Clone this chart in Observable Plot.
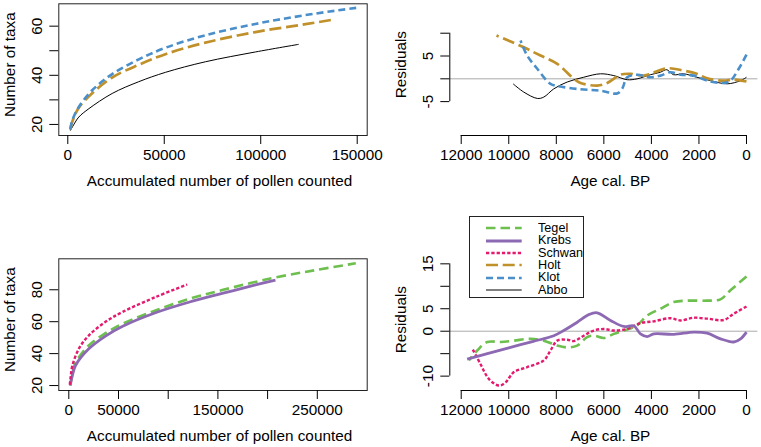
<!DOCTYPE html>
<html>
<head>
<meta charset="utf-8">
<script src="https://cdn.jsdelivr.net/npm/d3@7"></script>
<script src="https://cdn.jsdelivr.net/npm/@observablehq/plot@0.6"></script>
<style>
  body { margin: 0; background: #fff; }
  #wrap { position: relative; width: 761px; height: 447px; overflow: hidden; background: #fff;
          font-family: "Liberation Sans", Arial, Helvetica, sans-serif; }
  .panel { position: absolute; }
  .panel svg { overflow: visible; }
  #legend { position: absolute; box-sizing: border-box; border: 1px solid #222; background: #fff; }
  #legend .row { position: absolute; font-size: 11px; color: #000; white-space: nowrap;
                 transform: scale(1.15, 1.1); transform-origin: 0 50%; }
</style>
</head>
<body>
<div id="wrap"></div>
<script>
// ---------------- DATA ----------------
// Rarefaction curves (accumulated pollen count, number of taxa)
const klotRare  = [[1260,18],[2500,22],[5700,27.1],[12640,33.9],[23000,40.5],[36800,46.5],[50600,51.2],[71300,56.3],[97250,60.9],[123200,64.5],[149900,67.5]];
const holtRare  = [[1260,18],[2500,21.5],[5700,26.8],[12640,32.7],[23000,39.1],[36800,44.3],[50600,48.6],[71300,53.3],[97250,57.6],[123200,60.8],[137800,62.7]];
const abboRare  = [[1300,17.5],[3000,19.8],[5700,23.0],[10900,26.4],[23000,32.6],[36800,37.4],[50600,41.2],[71300,45.5],[97250,49.5],[119700,52.6]];
const tegelRare = [[1430,20],[3500,27],[6740,34.2],[20100,45.1],[36900,52.8],[53700,58.6],[87200,67.0],[120700,74.2],[154300,79.8],[204600,87.3],[248200,92.3],[288700,96.6]];
const krebsRare = [[1430,20],[3500,26],[6740,32.5],[20100,43.0],[36900,51.0],[53700,57.0],[87200,65.6],[120700,72.2],[154300,77.7],[187800,83.0],[207900,86.0]];
const schwanRare= [[1000,20.5],[2000,26],[3420,32.0],[10060,43.0],[20100,51.3],[36900,59.9],[53700,66.0],[87200,75.4],[119100,83.3]];

// Residuals (age cal. BP, residual)
const klotRes  = [[9505,8.4],[9225,5.1],[8800,2.2],[8245,-1.1],[7820,-1.7],[6980,-2.3],[6140,-2.6],[5440,-3.2],[5230,-2.2],[5020,0.35],[4600,0.9],[4040,0.35],[3620,0.7],[3200,1.45],[2775,0.9],[2215,0.7],[1655,-0.4],[955,-0.9],[675,-0.4],[325,2.2],[0,5.3]];
const holtRes  = [[10515,9.5],[9370,6.9],[8665,5.1],[7960,3.3],[7260,0],[6980,-0.9],[6280,-1.5],[5860,-0.9],[5300,0.9],[4880,1.1],[4320,0.7],[3350,2.3],[2650,1.8],[2090,1.1],[1650,0.1],[955,-0.4],[535,-0.15],[0,-0.6]];
const abboRes  = [[9815,-1.1],[9370,-2.9],[8800,-4.3],[8525,-4.0],[8105,-2.2],[7540,-0.7],[6845,0.35],[6140,1.1],[5580,0.7],[5020,-0.2],[4600,0],[4040,0.9],[3620,1.45],[3350,2.0],[3070,0.9],[2650,1.1],[2090,0.35],[1515,-0.4],[815,-1.1],[250,-0.4],[0,0.35]];
const tegelRes = [[11680,-6.5],[11330,-4.3],[10905,-2.4],[10345,-2.4],[9785,-2.1],[9085,-1.7],[8525,-2.1],[7960,-3.2],[7540,-3.6],[7120,-3.2],[6700,-1.3],[6420,-1.0],[6000,-1.5],[5580,-0.6],[5020,0.4],[4600,1.3],[4180,3.5],[3620,5.0],[3060,6.5],[2495,6.8],[1655,6.8],[1095,7.1],[675,9.1],[0,12.2]];
const krebsRes = [[11750,-6.2],[10900,-5.0],[10000,-3.7],[9000,-2.3],[8105,-1.0],[7685,0.15],[7120,2.0],[6630,3.7],[6280,4.1],[5720,2.4],[5160,1.05],[4740,1.2],[4460,-0.6],[4180,-1.2],[3900,-0.6],[3060,-0.7],[2215,-0.2],[1655,-0.45],[1095,-1.7],[535,-2.4],[250,-1.7],[0,-0.2]];
const schwanRes= [[11540,-3.8],[11190,-7.3],[10840,-10.6],[10420,-12.1],[10135,-11.4],[9785,-9.1],[9225,-8.0],[8525,-6.5],[8245,-4.3],[7960,-2.1],[7540,-1.9],[7260,-2.2],[6845,-1.0],[6420,0.15],[6000,0.5],[5580,0.15],[5020,0.5],[4460,1.8],[3900,2.2],[3200,2.9],[2775,2.4],[2215,3.0],[1655,2.8],[955,2.5],[535,3.9],[0,5.5]];

// Axis ticks and labels
const tlXTicks = [0,50000,100000,150000];
const tlXLabels = [0,50000,100000,150000];
const tlYTicks = [20,30,40,50,60];
const tlYLabels = [20,40,60];
const blXTicks = [0,50000,100000,150000,200000,250000];
const blXLabels = [0,50000,150000,250000];
const blYTicks = [20,40,60,80];
const blYLabels = [20,40,60,80];
const ageTicks = [12000,10000,8000,6000,4000,2000,0];
const trYTicks = [-5,0,5,10];
const trYLabels = [-5,5];
const brYTicks = [-10,-5,0,5,10,15];
const brYLabels = [-10,0,5,15];

const xTitleRare = "Accumulated number of pollen counted";
const yTitleRare = "Number of taxa";
const xTitleRes = "Age cal. BP";
const yTitleRes = "Residuals";
const legendNames = ["Tegel","Krebs","Schwan","Holt","Klot","Abbo"];

// ---------------- STYLES ----------------
const S = {
  Tegel:  {stroke: "#6dbf4e", strokeWidth: 2.6, strokeDasharray: "9.5,5"},
  Krebs:  {stroke: "#8c69b2", strokeWidth: 2.8, strokeDasharray: null},
  Schwan: {stroke: "#e31a6e", strokeWidth: 2.4, strokeDasharray: "3.3,2"},
  Holt:   {stroke: "#c0902a", strokeWidth: 2.7, strokeDasharray: "12,4.7"},
  Klot:   {stroke: "#4a8fca", strokeWidth: 2.6, strokeDasharray: "7,4"},
  Abbo:   {stroke: "#000000", strokeWidth: 1, strokeDasharray: null}
};
const FS = 15.3;
const FONT = '"Liberation Sans", Arial, Helvetica, sans-serif';

const wrap = document.getElementById("wrap");

function series(data, name) {
  const st = S[name];
  const sorted = data.slice().sort((a, b) => a[0] - b[0]);
  const o = {x: d => d[0], y: d => d[1], stroke: st.stroke, strokeWidth: st.strokeWidth,
             curve: "catmull-rom", strokeLinecap: "butt", strokeLinejoin: "round"};
  if (st.strokeDasharray) o.strokeDasharray = st.strokeDasharray;
  return Plot.line(sorted, o);
}

function place(svg, left, top, width) {
  const div = document.createElement("div");
  div.className = "panel";
  div.style.left = left + "px";
  div.style.top = top + "px";
  div.style.width = width + "px";
  div.appendChild(svg);
  wrap.appendChild(div);
}

function yTickLabels(labels) {
  return Plot.text(labels, {y: d => d, text: d => String(d), frameAnchor: "left", rotate: -90,
    dx: -21.5, textAnchor: "middle", lineAnchor: "middle", fontSize: FS, fill: "black"});
}
function titles(xt, yt) {
  return [
    Plot.text([xt], {text: d => d, frameAnchor: "bottom", dy: 46, dx: 6.5, textAnchor: "middle", lineAnchor: "middle", fontSize: FS, fill: "black"}),
    Plot.text([yt], {text: d => d, frameAnchor: "left", rotate: -90, dx: -48.8, dy: -5, textAnchor: "middle", lineAnchor: "middle", fontSize: FS, fill: "black"})
  ];
}
function xAxes(ticks, labels) {
  return [
    Plot.axisX({ticks, tickSize: 9, fill: "none", stroke: "black", label: null}),
    Plot.axisX({ticks: labels, tickSize: 0, tickPadding: 14, tickFormat: d => String(d), label: null, fontSize: FS, fill: "black"})
  ];
}
const baseStyle = {fontFamily: FONT, fontSize: FS + "px", background: "transparent", overflow: "visible", color: "black"};

// ---------------- TOP LEFT ----------------
place(Plot.plot({
  width: 380, height: 224,
  marginLeft: 58.3, marginRight: 13.3, marginTop: 3.3, marginBottom: 89,
  x: {domain: [-4660, 155180]},
  y: {domain: [15.5, 69.1]},
  style: baseStyle,
  marks: [
    Plot.frame({stroke: "#222"}),
    series(abboRare, "Abbo"),
    series(holtRare, "Holt"),
    series(klotRare, "Klot"),
    ...xAxes(tlXTicks, tlXLabels),
    Plot.axisY({ticks: tlYTicks, tickSize: 9, fill: "none", stroke: "black", label: null}),
    yTickLabels(tlYLabels),
    ...titles(xTitleRare, yTitleRare)
  ]
}), 0, 0, 380);

// ---------------- TOP RIGHT ----------------
const resXDomain = [12480, -480];
const trYDomain = [-12.43, 16.45];
place(Plot.plot({
  width: 381, height: 224,
  marginLeft: 69.3, marginRight: 3.6, marginTop: 3.3, marginBottom: 89,
  x: {domain: resXDomain},
  y: {domain: trYDomain},
  style: baseStyle,
  marks: [
    Plot.ruleY([0], {stroke: "#aaaaaa", strokeWidth: 1}),
    series(abboRes, "Abbo"),
    series(holtRes, "Holt"),
    series(klotRes, "Klot"),
    Plot.ruleY([trYDomain[0]], {x1: d3.max(ageTicks), x2: d3.min(ageTicks), stroke: "black"}),
    Plot.ruleX([resXDomain[0]], {y1: d3.min(trYTicks), y2: d3.max(trYTicks), stroke: "black"}),
    ...xAxes(ageTicks, ageTicks),
    Plot.axisY({ticks: trYTicks, tickSize: 9, fill: "none", stroke: "black", label: null}),
    yTickLabels(trYLabels),
    ...titles(xTitleRes, yTitleRes)
  ]
}), 380, 0, 381);

// ---------------- BOTTOM LEFT ----------------
place(Plot.plot({
  width: 380, height: 223,
  marginLeft: 58.3, marginRight: 13.3, marginTop: 34.3, marginBottom: 57,
  x: {domain: [-10060, 300190]},
  y: {domain: [16.9, 99.4]},
  style: baseStyle,
  marks: [
    Plot.frame({stroke: "#222"}),
    series(tegelRare, "Tegel"),
    series(krebsRare, "Krebs"),
    series(schwanRare, "Schwan"),
    ...xAxes(blXTicks, blXLabels),
    Plot.axisY({ticks: blYTicks, tickSize: 9, fill: "none", stroke: "black", label: null}),
    yTickLabels(blYLabels),
    ...titles(xTitleRare, yTitleRare)
  ]
}), 0, 224, 380);

// ---------------- BOTTOM RIGHT ----------------
const brYDomain = [-13.2, 16.12];
place(Plot.plot({
  width: 381, height: 223,
  marginLeft: 69.3, marginRight: 3.6, marginTop: 34.3, marginBottom: 57,
  x: {domain: resXDomain},
  y: {domain: brYDomain},
  style: baseStyle,
  marks: [
    Plot.ruleY([0], {stroke: "#aaaaaa", strokeWidth: 1}),
    series(tegelRes, "Tegel"),
    series(schwanRes, "Schwan"),
    series(krebsRes, "Krebs"),
    Plot.ruleY([brYDomain[0]], {x1: d3.max(ageTicks), x2: d3.min(ageTicks), stroke: "black"}),
    Plot.ruleX([resXDomain[0]], {y1: d3.min(brYTicks), y2: d3.max(brYTicks), stroke: "black"}),
    ...xAxes(ageTicks, ageTicks),
    Plot.axisY({ticks: brYTicks, tickSize: 9, fill: "none", stroke: "black", label: null}),
    yTickLabels(brYLabels),
    ...titles(xTitleRes, yTitleRes)
  ]
}), 380, 224, 381);

// ---------------- LEGEND ----------------
const leg = document.createElement("div");
leg.id = "legend";
Object.assign(leg.style, {left: "469.3px", top: "216px", width: "114.7px", height: "82px"});
legendNames.forEach((name, i) => {
  const st = S[name];
  const cy = 12.3 + i * 12.35 - 1; // row centre inside border
  const sw = document.createElementNS("http://www.w3.org/2000/svg", "svg");
  sw.setAttribute("width", 36); sw.setAttribute("height", 8);
  Object.assign(sw.style, {position: "absolute", left: (16.7 - 1) + "px", top: (cy - 4) + "px", overflow: "visible"});
  const ln = document.createElementNS("http://www.w3.org/2000/svg", "line");
  ln.setAttribute("x1", 0); ln.setAttribute("x2", 35.7); ln.setAttribute("y1", 4); ln.setAttribute("y2", 4);
  ln.setAttribute("stroke", st.stroke); ln.setAttribute("stroke-width", st.strokeWidth);
  if (st.strokeDasharray) ln.setAttribute("stroke-dasharray", st.strokeDasharray);
  sw.appendChild(ln);
  leg.appendChild(sw);
  const t = document.createElement("div");
  t.className = "row";
  t.textContent = name;
  Object.assign(t.style, {left: (68.4 - 1) + "px", top: (cy - 5.5) + "px", lineHeight: "11px", height: "11px"});
  leg.appendChild(t);
});
wrap.appendChild(leg);
</script>
</body>
</html>
